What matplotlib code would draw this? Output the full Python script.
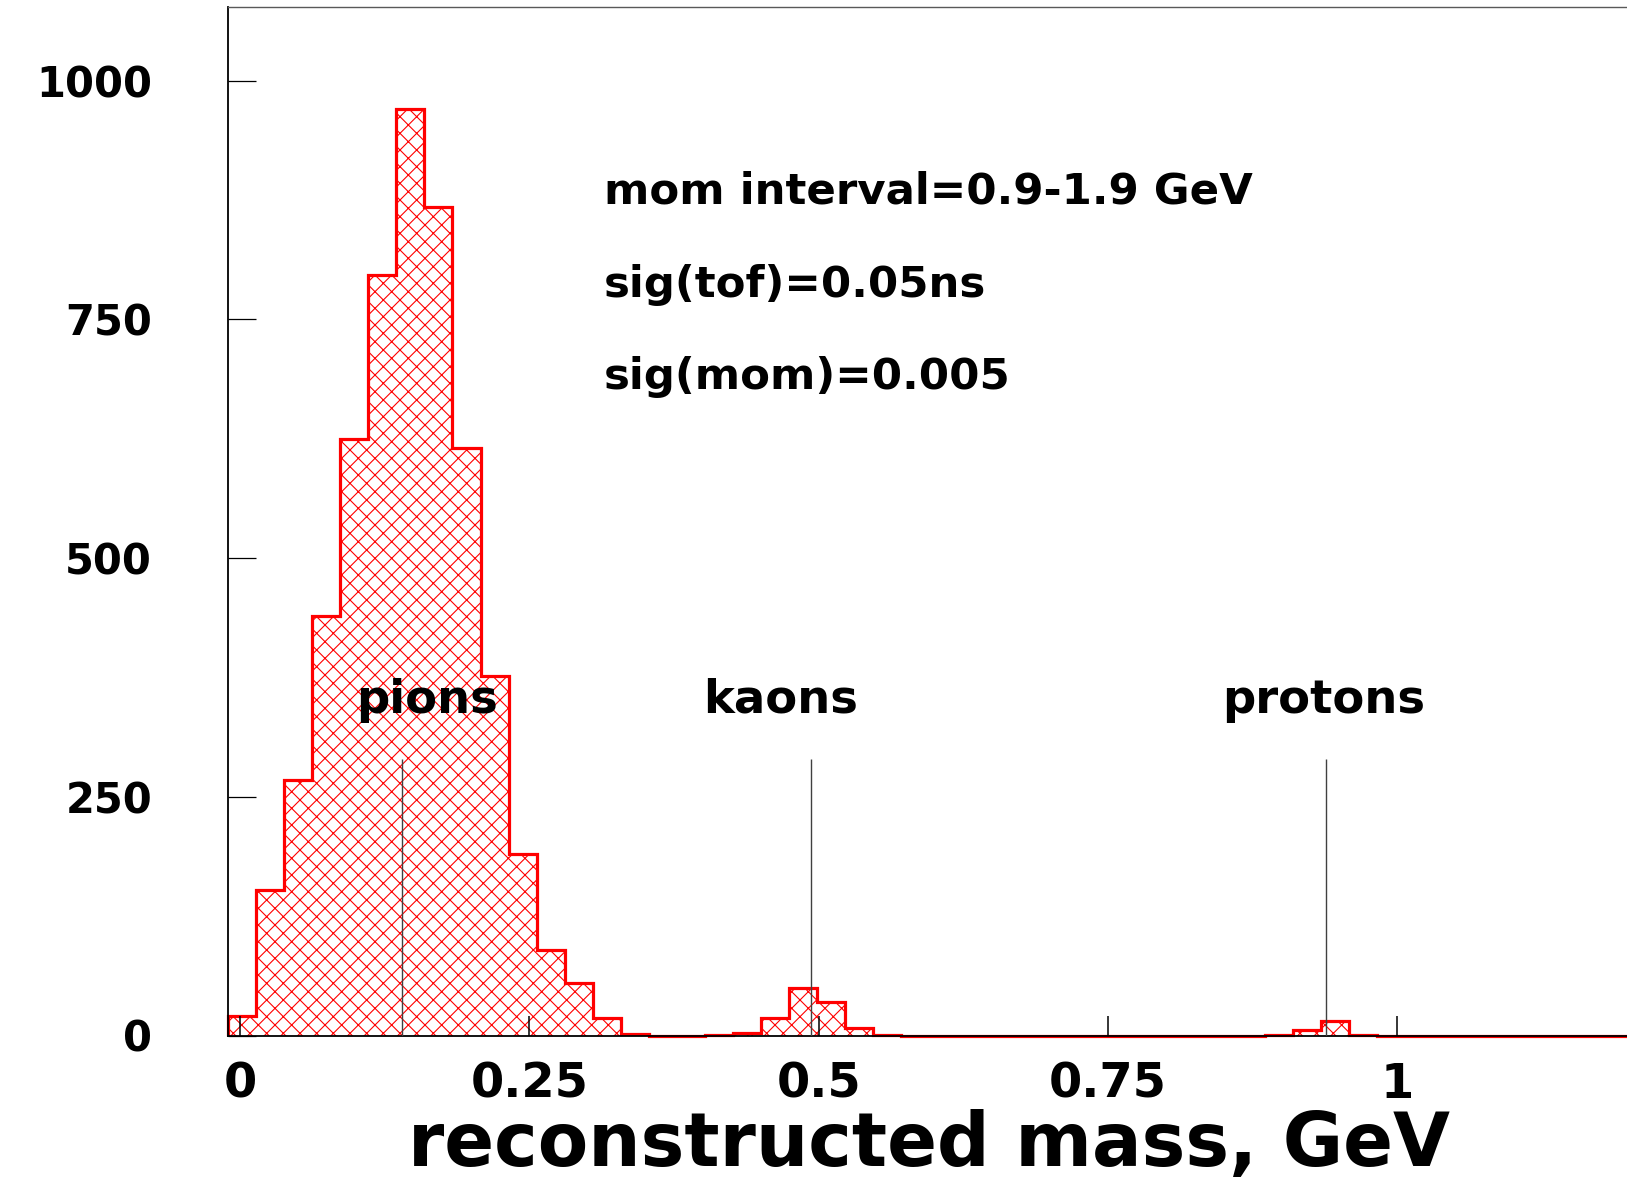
import numpy as np
import matplotlib
matplotlib.use('Agg')
import matplotlib.pyplot as plt

# reconstructed mass histogram: 50 bins between -0.01 and 1.2 GeV
bin_lo, bin_hi, n_bins = -0.01, 1.2, 50
counts = [20, 152, 268, 439, 625, 796, 970, 868, 615, 376,
          190, 90, 55, 18, 2, 0, 0, 1, 3, 18,
          50, 35, 8, 1, 0, 0, 0, 0, 0, 0,
          0, 0, 0, 0, 0, 0, 0, 1, 6, 15,
          1, 0, 0, 0, 0, 0, 0, 0, 0, 0]

# nominal particle masses (GeV) and where their names go
particles = ['pions', 'kaons', 'protons']
masses = [0.1396, 0.4937, 0.9383]
name_x = [0.162, 0.467, 0.936]
name_y = 351
marker_top = 290

# run conditions
info_lines = ['mom interval=0.9-1.9 GeV', 'sig(tof)=0.05ns', 'sig(mom)=0.005']
info_x = 0.3145
info_y = [884, 786, 690]

x_ticks = [0, 0.25, 0.5, 0.75, 1]
x_ticklabels = ['0', '0.25', '0.5', '0.75', '1']
y_ticks = [0, 250, 500, 750, 1000]
y_ticklabels = ['0', '250', '500', '750', '1000']


def display():
    plt.rcParams['font.family'] = ['DejaVu Sans']
    plt.rcParams['font.weight'] = 'bold'
    plt.rcParams['hatch.linewidth'] = 0.8

    W, H = 1627, 1181
    fig = plt.figure(figsize=(W / 100, H / 100), dpi=100)
    # axes frame in pixels: left 228, top 7, bottom 1035, runs past the right edge
    ax = fig.add_axes([228.4 / W, 1 - 1035.5 / H, (1629 - 228.4) / W, (1035.5 - 7) / H])

    edges = np.linspace(bin_lo, bin_hi, n_bins + 1)
    ax.stairs(counts, edges, fill=True, facecolor='none', edgecolor='red',
              hatch='xx', linewidth=0)
    # outline left unclipped so the empty bins show as a red line on the axis
    ax.stairs(counts, edges, color='red', linewidth=2.3, baseline=0,
              clip_on=False)

    # mass markers and particle names
    ax.vlines(masses, 0, marker_top, color='0.25', linewidth=1, zorder=3)
    for name, x in zip(particles, name_x):
        ax.text(x, name_y, name, fontsize=33.5, fontweight='bold',
                ha='center', va='center', zorder=4)

    for line, y in zip(info_lines, info_y):
        ax.text(info_x, y, line, fontsize=31.3, fontweight='bold',
                ha='left', va='center')

    ax.set_xlim(bin_lo, bin_hi)
    ax.set_ylim(0, 1077)
    ax.set_xticks(x_ticks)
    ax.set_xticklabels(x_ticklabels)
    ax.set_yticks(y_ticks)
    ax.set_yticklabels(y_ticklabels)
    ax.tick_params(axis='x', direction='in', length=14.5, width=1.1,
                   pad=18, labelsize=34.5)
    ax.tick_params(axis='y', direction='in', length=20, width=0.9,
                   pad=55, labelsize=30)
    for lbl in ax.get_xticklabels() + ax.get_yticklabels():
        lbl.set_fontweight('bold')

    ax.spines['right'].set_visible(False)
    ax.spines['top'].set_color('0.35')
    ax.spines['top'].set_linewidth(1)
    ax.spines['left'].set_linewidth(1.3)
    ax.spines['bottom'].set_linewidth(1.3)

    ax.set_xlabel('reconstructed mass, GeV', fontsize=53, fontweight='bold')
    ax.xaxis.set_label_coords(0.5, -0.127)
    ax.xaxis.label.set_va('baseline')

    fig.savefig('out.png', dpi=100)


if __name__ == "__main__":
    display()
